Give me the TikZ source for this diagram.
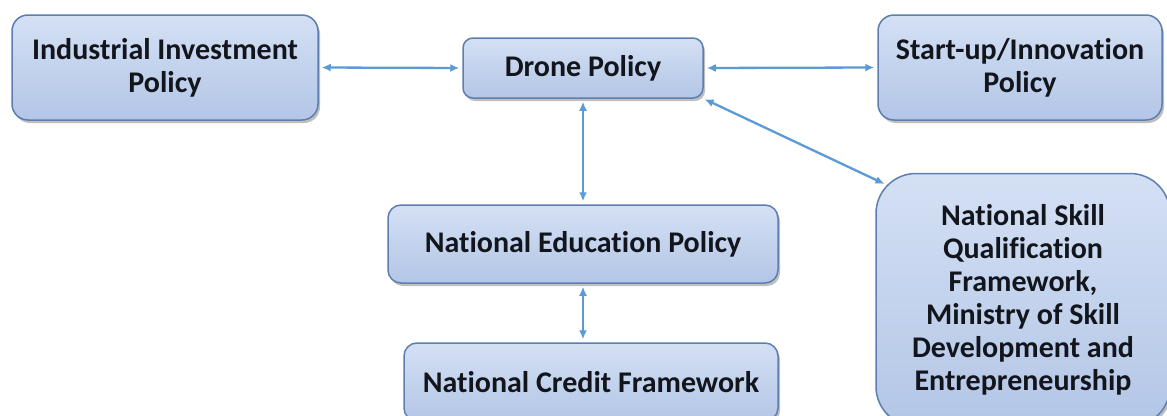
\documentclass[tikz,border=0pt]{standalone}
\usepackage{fontspec}
\setmainfont[Ligatures=NoCommon]{Carlito}
\usetikzlibrary{arrows.meta,shadows,calc}
\definecolor{boxtop}{HTML}{D4E0F4}
\definecolor{boxbot}{HTML}{B3C6E6}
\definecolor{boxline}{HTML}{5F7EB0}
\definecolor{arrowblue}{HTML}{5B9BD5}
\definecolor{txt}{HTML}{12151C}
\begin{document}
\begin{tikzpicture}[x=1pt,y=-1pt,
  policybox/.style={draw=boxline, line width=1.5pt, top color=boxtop, bottom color=boxbot,
    align=center, inner sep=0pt, text=txt,
    font=\bfseries\fontsize{30}{33}\selectfont,
    drop shadow={opacity=0.5, shadow xshift=2pt, shadow yshift=-3pt}},
  link/.style={draw=arrowblue, line width=2.3pt,
    {Latex[length=9pt,width=8pt]}-{Latex[length=9pt,width=8pt]},
    shorten <=3pt, shorten >=3pt}]
\useasboundingbox (0,0) rectangle (1167,415);
\clip (0,0) rectangle (1167,415);
\fill[white] (0,0) rectangle (1167,415);
\node[policybox, rounded corners=16pt, minimum width=306pt, minimum height=105pt] (ind) at (165,67.5) {Industrial Investment\\Policy};
\node[policybox, rounded corners=10pt, minimum width=240pt, minimum height=60pt] (drone) at (583,68) {Drone Policy};
\node[policybox, rounded corners=16pt, minimum width=284pt, minimum height=105pt] (start) at (1020,67.5) {Start-up/Innovation\\Policy};
\node[policybox, rounded corners=13pt, minimum width=390pt, minimum height=78pt] (nep) at (583,244) {National Education Policy};
\node[policybox, rounded corners=13pt, minimum width=374pt, minimum height=78pt] (ncf) at (591,382) {National Credit Framework};
\node[policybox, rounded corners=40pt, minimum width=294pt, minimum height=253pt] (nsqf) at (1023,300) {National Skill\\Qualification\\Framework,\\Ministry of Skill\\Development and\\Entrepreneurship};
\draw[link] (ind.east) -- (drone.west);
\draw[link] (drone.east) -- (start.west);
\draw[link] (drone.south) -- (nep.north);
\draw[link] (nep.south) -- (nep.south |- ncf.north);
\draw[link, shorten >=2pt, shorten <=1pt] (drone.south east) -- ($(nsqf.north west)+(11,12)$);
\end{tikzpicture}
\end{document}
